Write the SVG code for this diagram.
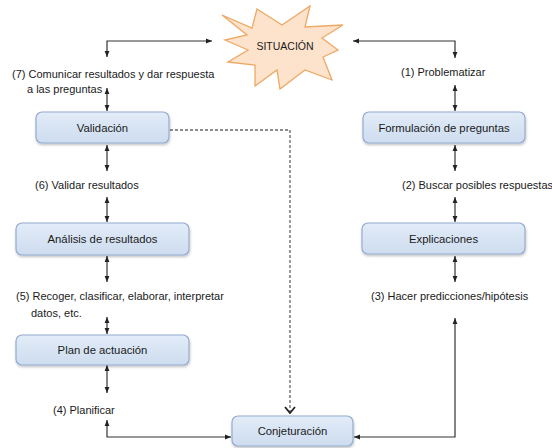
<svg xmlns="http://www.w3.org/2000/svg" width="552" height="448" viewBox="0 0 552 448">
<defs>
<linearGradient id="bg" x1="0" y1="0" x2="0" y2="1">
<stop offset="0" stop-color="#e3ecf8"/>
<stop offset="1" stop-color="#cddcef"/>
</linearGradient>
<marker id="ah" viewBox="0 0 10 10" refX="10" refY="5" markerWidth="6" markerHeight="6" markerUnits="userSpaceOnUse" orient="auto-start-reverse">
<path d="M0,1 L10,5 L0,9 z" fill="#222"/>
</marker>
<marker id="chev" viewBox="0 0 12 8" refX="6" refY="7" markerWidth="12" markerHeight="8" markerUnits="userSpaceOnUse" orient="0">
<path d="M1,1 L6,7 L11,1" fill="none" stroke="#222" stroke-width="1.8"/>
</marker>
<filter id="sh" x="-10%" y="-20%" width="120%" height="150%">
<feDropShadow dx="0.5" dy="1.5" stdDeviation="1" flood-color="#000" flood-opacity="0.25"/>
</filter>
</defs>
<style>
.box{fill:url(#bg);stroke:#93acd0;stroke-width:1.2}
.bt{font-family:"Liberation Sans",Arial,sans-serif;font-size:11.3px;fill:#1a1a1a;text-anchor:middle}
.lb{font-family:"Liberation Sans",Arial,sans-serif;font-size:11px;fill:#1a1a1a}
.c{fill:none;stroke:#333;stroke-width:1.2}
.d{marker-start:url(#ah);marker-end:url(#ah)}
.dash{fill:none;stroke:#666;stroke-width:1.3;stroke-dasharray:3,2}
</style>
<rect width="552" height="448" fill="#fff"/>

<g id="connectors">
<path class="c d" d="M107,57 V41 H212"/>
<line class="c d" x1="107" y1="88" x2="107" y2="111"/>
<line class="c d" x1="107" y1="145" x2="107" y2="171"/>
<line class="c d" x1="107" y1="197" x2="107" y2="222"/>
<line class="c d" x1="107" y1="256" x2="107" y2="282"/>
<line class="c d" x1="107" y1="317" x2="107" y2="334"/>
<line class="c d" x1="107" y1="365" x2="107" y2="393"/>
<path class="c d" d="M107,420 V437 H231"/>
<path class="c d" d="M353,41 H455 V58"/>
<line class="c d" x1="455" y1="85" x2="455" y2="111"/>
<line class="c d" x1="455" y1="145" x2="455" y2="171"/>
<line class="c d" x1="455" y1="197" x2="455" y2="222"/>
<line class="c d" x1="455" y1="256" x2="455" y2="282"/>
<path class="c d" d="M455,318 V437 H354"/>
<path class="dash" d="M170,130 H290 V413" marker-end="url(#chev)"/>
</g>

<g id="situacion">
<polygon points="222,15 252,28 257,9 282,25 310,6 305,27 343,25 322,38 338,50 323,57 332,80 305,70 280,89 277,70 255,86 255,65 228,62 248,50 225,40 247,35" fill="#fde3cb" stroke="#eea866" stroke-width="1.3" stroke-linejoin="miter"/>
<text class="bt" x="285" y="50" style="font-size:10.5px">SITUACIÓN</text>
</g>

<g id="validacion">
<rect class="box" x="36" y="112" width="133" height="31" rx="6" filter="url(#sh)"/>
<text class="bt" x="102.5" y="131.5">Validación</text>
</g>
<g id="formulacion">
<rect class="box" x="363" y="112" width="162" height="31" rx="6" filter="url(#sh)"/>
<text class="bt" x="444" y="131.5">Formulación de preguntas</text>
</g>
<g id="analisis">
<rect class="box" x="16" y="223" width="173" height="32" rx="6" filter="url(#sh)"/>
<text class="bt" x="102.5" y="243">Análisis de resultados</text>
</g>
<g id="explicaciones">
<rect class="box" x="362" y="223" width="163" height="31" rx="6" filter="url(#sh)"/>
<text class="bt" x="443.5" y="242.5">Explicaciones</text>
</g>
<g id="plan">
<rect class="box" x="16" y="335" width="173" height="30" rx="6" filter="url(#sh)"/>
<text class="bt" x="102.5" y="354">Plan de actuación</text>
</g>
<g id="conjeturacion">
<rect class="box" x="232" y="416" width="121" height="30" rx="6" filter="url(#sh)"/>
<text class="bt" x="292.5" y="435">Conjeturación</text>
</g>

<g id="labels">
<text class="lb" x="12" y="77.5">(7) Comunicar resultados y dar respuesta</text>
<text class="lb" x="27" y="92.5">a las preguntas</text>
<text class="lb" x="35" y="189">(6) Validar resultados</text>
<text class="lb" x="16" y="300">(5) Recoger, clasificar, elaborar, interpretar</text>
<text class="lb" x="31" y="317">datos, etc.</text>
<text class="lb" x="53" y="414">(4) Planificar</text>
<text class="lb" x="401" y="76">(1) Problematizar</text>
<text class="lb" x="402" y="189">(2) Buscar posibles respuestas</text>
<text class="lb" x="371" y="300">(3) Hacer predicciones/hipótesis</text>
</g>
</svg>
